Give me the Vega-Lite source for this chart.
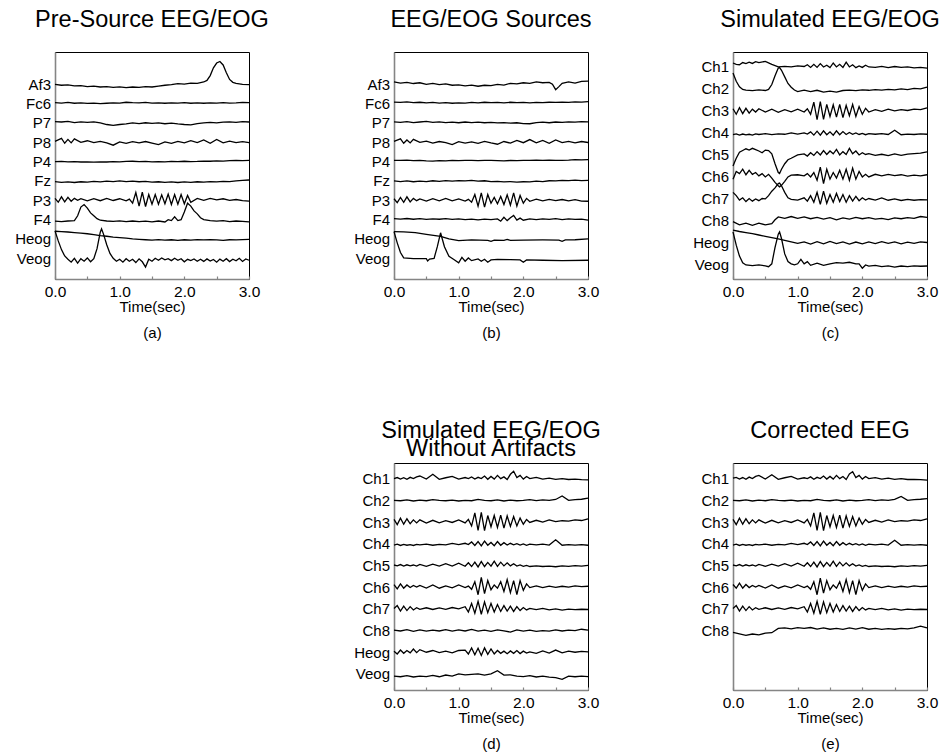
{
"$schema":"https://vega.github.io/schema/vega-lite/v6.json",
"padding":{"left":14,"top":7,"right":0,"bottom":0},
"background":"white",
"bounds":"flush",
"columns":3,
"spacing":{"row":184,"column":145},
"config":{
"font":"Liberation Sans",
"view":{"stroke":"black","strokeWidth":1},
"title":{"font":"Liberation Sans","fontSize":23.5,"fontWeight":"normal","color":"black","offset":21},
"axis":{"grid":false,"domainColor":"#858585","domainWidth":1.6,"labelFont":"Liberation Sans","labelColor":"black","titleFont":"Liberation Sans","titleFontWeight":"normal","titleColor":"black","zindex":1},
"axisX":{"values":[0,0.5,1,1.5,2,2.5,3],"labelExpr":"datum.value % 1 === 0 ? format(datum.value, '.1f') : ''","labelFlush":false,"labelOverlap":false,"tickSize":-3,"tickColor":"#858585","tickWidth":1.2,"labelFontSize":15.5,"labelPadding":8,"titleFontSize":15,"titlePadding":0,"titleLineHeight":25.5},
"axisY":{"ticks":false,"labelFontSize":15,"labelPadding":4.5,"title":null},
"line":{"color":"black","strokeWidth":1.3}
},
"datasets":{
"a":[
{"c":10,"t":0,"y":10.0},{"c":10,"t":0.1,"y":9.95},{"c":10,"t":0.2,"y":9.97},{"c":10,"t":0.3,"y":9.92},{"c":10,"t":0.4,"y":9.93},{"c":10,"t":0.5,"y":9.88},{"c":10,"t":0.6,"y":9.9},{"c":10,"t":0.7,"y":9.86},{"c":10,"t":0.8,"y":9.88},{"c":10,"t":0.9,"y":9.84},{"c":10,"t":1,"y":9.87},{"c":10,"t":1.1,"y":9.83},{"c":10,"t":1.2,"y":9.86},{"c":10,"t":1.3,"y":9.84},{"c":10,"t":1.4,"y":9.88},{"c":10,"t":1.5,"y":9.86},{"c":10,"t":1.6,"y":9.91},{"c":10,"t":1.7,"y":9.95},{"c":10,"t":1.8,"y":9.98},{"c":10,"t":1.9,"y":10.03},{"c":10,"t":2,"y":10.01},{"c":10,"t":2.1,"y":10.06},{"c":10,"t":2.2,"y":10.05},{"c":10,"t":2.3,"y":10.12},{"c":10,"t":2.35,"y":10.2},{"c":10,"t":2.4,"y":10.45},{"c":10,"t":2.45,"y":10.85},{"c":10,"t":2.5,"y":11.1},{"c":10,"t":2.55,"y":11.18},{"c":10,"t":2.6,"y":11.0},{"c":10,"t":2.65,"y":10.6},{"c":10,"t":2.7,"y":10.25},{"c":10,"t":2.75,"y":10.1},{"c":10,"t":2.8,"y":10.05},{"c":10,"t":2.9,"y":10.0},{"c":10,"t":3,"y":9.98},
{"c":9,"t":0,"y":9.05},{"c":9,"t":0.1,"y":9.03},{"c":9,"t":0.2,"y":9.06},{"c":9,"t":0.3,"y":9.02},{"c":9,"t":0.4,"y":9.04},{"c":9,"t":0.5,"y":9.01},{"c":9,"t":0.6,"y":9.03},{"c":9,"t":0.7,"y":9.0},{"c":9,"t":0.8,"y":9.02},{"c":9,"t":0.9,"y":9.04},{"c":9,"t":1,"y":9.03},{"c":9,"t":1.1,"y":9.07},{"c":9,"t":1.2,"y":9.05},{"c":9,"t":1.3,"y":9.04},{"c":9,"t":1.4,"y":9.06},{"c":9,"t":1.5,"y":9.03},{"c":9,"t":1.6,"y":9.04},{"c":9,"t":1.7,"y":9.02},{"c":9,"t":1.8,"y":9.04},{"c":9,"t":1.9,"y":9.03},{"c":9,"t":2,"y":9.05},{"c":9,"t":2.1,"y":9.02},{"c":9,"t":2.2,"y":9.04},{"c":9,"t":2.3,"y":9.02},{"c":9,"t":2.4,"y":9.04},{"c":9,"t":2.5,"y":9.03},{"c":9,"t":2.6,"y":9.05},{"c":9,"t":2.7,"y":9.03},{"c":9,"t":2.8,"y":9.04},{"c":9,"t":2.9,"y":9.06},{"c":9,"t":3,"y":9.05},
{"c":8,"t":0,"y":8.07},{"c":8,"t":0.1,"y":8.05},{"c":8,"t":0.2,"y":8.08},{"c":8,"t":0.3,"y":8.02},{"c":8,"t":0.4,"y":8.06},{"c":8,"t":0.5,"y":8.03},{"c":8,"t":0.6,"y":8.06},{"c":8,"t":0.7,"y":8.0},{"c":8,"t":0.8,"y":7.92},{"c":8,"t":0.9,"y":7.88},{"c":8,"t":1,"y":7.92},{"c":8,"t":1.1,"y":7.95},{"c":8,"t":1.2,"y":8.0},{"c":8,"t":1.3,"y":7.97},{"c":8,"t":1.4,"y":8.01},{"c":8,"t":1.5,"y":7.98},{"c":8,"t":1.6,"y":8.0},{"c":8,"t":1.7,"y":7.96},{"c":8,"t":1.8,"y":7.99},{"c":8,"t":1.9,"y":7.95},{"c":8,"t":2,"y":7.92},{"c":8,"t":2.1,"y":7.9},{"c":8,"t":2.2,"y":7.97},{"c":8,"t":2.3,"y":8.0},{"c":8,"t":2.4,"y":8.03},{"c":8,"t":2.5,"y":8.0},{"c":8,"t":2.6,"y":8.04},{"c":8,"t":2.7,"y":8.06},{"c":8,"t":2.8,"y":8.03},{"c":8,"t":2.9,"y":8.07},{"c":8,"t":3,"y":8.05},
{"c":7,"t":0,"y":7.05},{"c":7,"t":0.1,"y":7.2},{"c":7,"t":0.15,"y":6.95},{"c":7,"t":0.2,"y":7.15},{"c":7,"t":0.25,"y":6.97},{"c":7,"t":0.3,"y":7.18},{"c":7,"t":0.4,"y":7.0},{"c":7,"t":0.5,"y":7.08},{"c":7,"t":0.6,"y":6.98},{"c":7,"t":0.7,"y":7.05},{"c":7,"t":0.8,"y":6.97},{"c":7,"t":0.9,"y":6.85},{"c":7,"t":1,"y":7.02},{"c":7,"t":1.1,"y":6.95},{"c":7,"t":1.2,"y":7.03},{"c":7,"t":1.3,"y":6.97},{"c":7,"t":1.4,"y":7.04},{"c":7,"t":1.5,"y":6.96},{"c":7,"t":1.6,"y":6.88},{"c":7,"t":1.7,"y":7.02},{"c":7,"t":1.8,"y":6.95},{"c":7,"t":1.9,"y":7.05},{"c":7,"t":2,"y":6.97},{"c":7,"t":2.1,"y":7.08},{"c":7,"t":2.2,"y":6.98},{"c":7,"t":2.3,"y":7.12},{"c":7,"t":2.4,"y":6.95},{"c":7,"t":2.5,"y":7.15},{"c":7,"t":2.6,"y":6.97},{"c":7,"t":2.7,"y":7.06},{"c":7,"t":2.8,"y":6.98},{"c":7,"t":2.9,"y":7.03},{"c":7,"t":3,"y":6.98},
{"c":6,"t":0,"y":6.0},{"c":6,"t":0.1,"y":6.01},{"c":6,"t":0.2,"y":5.99},{"c":6,"t":0.3,"y":6.0},{"c":6,"t":0.4,"y":5.98},{"c":6,"t":0.5,"y":5.99},{"c":6,"t":0.6,"y":5.97},{"c":6,"t":0.7,"y":5.99},{"c":6,"t":0.8,"y":5.98},{"c":6,"t":0.9,"y":6.0},{"c":6,"t":1,"y":5.99},{"c":6,"t":1.1,"y":6.01},{"c":6,"t":1.2,"y":6.02},{"c":6,"t":1.3,"y":6.0},{"c":6,"t":1.4,"y":6.01},{"c":6,"t":1.5,"y":5.99},{"c":6,"t":1.6,"y":6.0},{"c":6,"t":1.7,"y":5.99},{"c":6,"t":1.8,"y":6.01},{"c":6,"t":1.9,"y":6.0},{"c":6,"t":2,"y":6.02},{"c":6,"t":2.1,"y":6.0},{"c":6,"t":2.2,"y":6.01},{"c":6,"t":2.3,"y":6.03},{"c":6,"t":2.4,"y":6.02},{"c":6,"t":2.5,"y":6.04},{"c":6,"t":2.6,"y":6.03},{"c":6,"t":2.7,"y":6.05},{"c":6,"t":2.8,"y":6.06},{"c":6,"t":2.9,"y":6.05},{"c":6,"t":3,"y":6.06},
{"c":5,"t":0,"y":4.97},{"c":5,"t":0.1,"y":4.93},{"c":5,"t":0.2,"y":4.95},{"c":5,"t":0.3,"y":4.92},{"c":5,"t":0.4,"y":4.96},{"c":5,"t":0.5,"y":4.94},{"c":5,"t":0.6,"y":4.98},{"c":5,"t":0.7,"y":4.95},{"c":5,"t":0.8,"y":4.99},{"c":5,"t":0.9,"y":4.97},{"c":5,"t":1,"y":5.0},{"c":5,"t":1.1,"y":4.97},{"c":5,"t":1.2,"y":4.99},{"c":5,"t":1.3,"y":4.96},{"c":5,"t":1.4,"y":4.98},{"c":5,"t":1.5,"y":4.94},{"c":5,"t":1.6,"y":4.96},{"c":5,"t":1.7,"y":4.93},{"c":5,"t":1.8,"y":4.95},{"c":5,"t":1.9,"y":4.92},{"c":5,"t":2,"y":4.95},{"c":5,"t":2.1,"y":4.93},{"c":5,"t":2.2,"y":4.96},{"c":5,"t":2.3,"y":4.94},{"c":5,"t":2.4,"y":4.97},{"c":5,"t":2.5,"y":4.95},{"c":5,"t":2.6,"y":4.98},{"c":5,"t":2.7,"y":4.97},{"c":5,"t":2.8,"y":5.01},{"c":5,"t":2.9,"y":5.03},{"c":5,"t":3,"y":5.05},
{"c":4,"t":0,"y":4.1},{"c":4,"t":0.05,"y":3.9},{"c":4,"t":0.1,"y":4.18},{"c":4,"t":0.15,"y":3.92},{"c":4,"t":0.2,"y":4.15},{"c":4,"t":0.25,"y":3.95},{"c":4,"t":0.3,"y":4.1},{"c":4,"t":0.35,"y":4.0},{"c":4,"t":0.4,"y":4.08},{"c":4,"t":0.5,"y":3.97},{"c":4,"t":0.6,"y":4.09},{"c":4,"t":0.7,"y":3.98},{"c":4,"t":0.8,"y":4.1},{"c":4,"t":0.9,"y":3.99},{"c":4,"t":1,"y":4.08},{"c":4,"t":1.1,"y":3.97},{"c":4,"t":1.15,"y":4.06},{"c":4,"t":1.2,"y":3.85},{"c":4,"t":1.25,"y":4.4},{"c":4,"t":1.3,"y":3.7},{"c":4,"t":1.35,"y":4.42},{"c":4,"t":1.4,"y":3.68},{"c":4,"t":1.45,"y":4.3},{"c":4,"t":1.5,"y":3.8},{"c":4,"t":1.55,"y":4.3},{"c":4,"t":1.6,"y":3.8},{"c":4,"t":1.65,"y":4.28},{"c":4,"t":1.7,"y":3.82},{"c":4,"t":1.75,"y":4.32},{"c":4,"t":1.8,"y":3.78},{"c":4,"t":1.85,"y":4.3},{"c":4,"t":1.9,"y":3.8},{"c":4,"t":1.95,"y":4.3},{"c":4,"t":2,"y":3.82},{"c":4,"t":2.05,"y":4.25},{"c":4,"t":2.1,"y":3.9},{"c":4,"t":2.2,"y":4.1},{"c":4,"t":2.3,"y":4.0},{"c":4,"t":2.4,"y":4.1},{"c":4,"t":2.5,"y":4.02},{"c":4,"t":2.6,"y":4.08},{"c":4,"t":2.7,"y":4.0},{"c":4,"t":2.8,"y":4.04},{"c":4,"t":2.9,"y":3.98},{"c":4,"t":3,"y":3.96},
{"c":3,"t":0,"y":2.92},{"c":3,"t":0.1,"y":2.9},{"c":3,"t":0.2,"y":2.93},{"c":3,"t":0.3,"y":2.95},{"c":3,"t":0.35,"y":3.2},{"c":3,"t":0.4,"y":3.65},{"c":3,"t":0.45,"y":3.78},{"c":3,"t":0.5,"y":3.6},{"c":3,"t":0.55,"y":3.35},{"c":3,"t":0.6,"y":3.2},{"c":3,"t":0.65,"y":3.05},{"c":3,"t":0.7,"y":2.97},{"c":3,"t":0.8,"y":2.93},{"c":3,"t":0.9,"y":2.91},{"c":3,"t":1,"y":2.94},{"c":3,"t":1.1,"y":2.9},{"c":3,"t":1.2,"y":2.93},{"c":3,"t":1.3,"y":2.9},{"c":3,"t":1.4,"y":2.92},{"c":3,"t":1.5,"y":2.88},{"c":3,"t":1.6,"y":2.93},{"c":3,"t":1.7,"y":2.88},{"c":3,"t":1.75,"y":3.0},{"c":3,"t":1.8,"y":2.95},{"c":3,"t":1.85,"y":3.15},{"c":3,"t":1.9,"y":2.95},{"c":3,"t":1.95,"y":3.0},{"c":3,"t":2,"y":3.4},{"c":3,"t":2.05,"y":3.85},{"c":3,"t":2.1,"y":3.7},{"c":3,"t":2.15,"y":3.45},{"c":3,"t":2.2,"y":3.3},{"c":3,"t":2.25,"y":3.1},{"c":3,"t":2.3,"y":3.0},{"c":3,"t":2.4,"y":2.95},{"c":3,"t":2.5,"y":2.92},{"c":3,"t":2.6,"y":2.95},{"c":3,"t":2.7,"y":2.9},{"c":3,"t":2.8,"y":2.93},{"c":3,"t":2.9,"y":2.91},{"c":3,"t":3,"y":2.88},
{"c":2,"t":0,"y":2.4},{"c":2,"t":0.1,"y":2.38},{"c":2,"t":0.2,"y":2.36},{"c":2,"t":0.3,"y":2.33},{"c":2,"t":0.4,"y":2.3},{"c":2,"t":0.5,"y":2.27},{"c":2,"t":0.6,"y":2.22},{"c":2,"t":0.7,"y":2.17},{"c":2,"t":0.8,"y":2.14},{"c":2,"t":0.9,"y":2.1},{"c":2,"t":1,"y":2.07},{"c":2,"t":1.1,"y":2.04},{"c":2,"t":1.2,"y":2.0},{"c":2,"t":1.3,"y":1.98},{"c":2,"t":1.4,"y":1.96},{"c":2,"t":1.5,"y":1.94},{"c":2,"t":1.6,"y":1.97},{"c":2,"t":1.7,"y":1.94},{"c":2,"t":1.8,"y":1.96},{"c":2,"t":1.9,"y":1.93},{"c":2,"t":2,"y":1.96},{"c":2,"t":2.1,"y":1.94},{"c":2,"t":2.2,"y":1.97},{"c":2,"t":2.3,"y":1.95},{"c":2,"t":2.4,"y":1.97},{"c":2,"t":2.5,"y":1.95},{"c":2,"t":2.6,"y":1.93},{"c":2,"t":2.7,"y":1.96},{"c":2,"t":2.8,"y":1.95},{"c":2,"t":2.9,"y":1.97},{"c":2,"t":3,"y":1.98},
{"c":1,"t":0,"y":2.42},{"c":1,"t":0.05,"y":1.9},{"c":1,"t":0.1,"y":1.45},{"c":1,"t":0.15,"y":1.12},{"c":1,"t":0.2,"y":0.95},{"c":1,"t":0.25,"y":0.8},{"c":1,"t":0.3,"y":1.0},{"c":1,"t":0.35,"y":0.75},{"c":1,"t":0.4,"y":0.98},{"c":1,"t":0.45,"y":0.85},{"c":1,"t":0.5,"y":1.02},{"c":1,"t":0.55,"y":0.82},{"c":1,"t":0.6,"y":0.98},{"c":1,"t":0.65,"y":1.5},{"c":1,"t":0.7,"y":2.35},{"c":1,"t":0.72,"y":2.52},{"c":1,"t":0.75,"y":2.25},{"c":1,"t":0.8,"y":1.7},{"c":1,"t":0.85,"y":1.25},{"c":1,"t":0.9,"y":1.0},{"c":1,"t":0.95,"y":0.85},{"c":1,"t":1,"y":0.95},{"c":1,"t":1.05,"y":0.8},{"c":1,"t":1.1,"y":0.98},{"c":1,"t":1.15,"y":0.85},{"c":1,"t":1.2,"y":0.95},{"c":1,"t":1.25,"y":0.78},{"c":1,"t":1.3,"y":0.97},{"c":1,"t":1.35,"y":0.82},{"c":1,"t":1.4,"y":0.55},{"c":1,"t":1.45,"y":0.95},{"c":1,"t":1.5,"y":0.85},{"c":1,"t":1.55,"y":1.0},{"c":1,"t":1.6,"y":0.9},{"c":1,"t":1.65,"y":1.02},{"c":1,"t":1.7,"y":0.92},{"c":1,"t":1.75,"y":0.98},{"c":1,"t":1.8,"y":0.88},{"c":1,"t":1.85,"y":1.0},{"c":1,"t":1.9,"y":0.9},{"c":1,"t":1.95,"y":0.98},{"c":1,"t":2,"y":0.82},{"c":1,"t":2.05,"y":0.95},{"c":1,"t":2.1,"y":0.88},{"c":1,"t":2.15,"y":0.97},{"c":1,"t":2.2,"y":0.85},{"c":1,"t":2.25,"y":0.95},{"c":1,"t":2.3,"y":0.84},{"c":1,"t":2.35,"y":0.97},{"c":1,"t":2.4,"y":0.86},{"c":1,"t":2.45,"y":0.94},{"c":1,"t":2.5,"y":0.8},{"c":1,"t":2.55,"y":0.96},{"c":1,"t":2.6,"y":0.85},{"c":1,"t":2.65,"y":0.98},{"c":1,"t":2.7,"y":0.83},{"c":1,"t":2.75,"y":0.95},{"c":1,"t":2.8,"y":0.87},{"c":1,"t":2.85,"y":1.0},{"c":1,"t":2.9,"y":0.84},{"c":1,"t":2.95,"y":0.97},{"c":1,"t":3,"y":0.9}
],
"b":[
{"c":10,"t":0,"y":10.12},{"c":10,"t":0.1,"y":10.06},{"c":10,"t":0.2,"y":10.1},{"c":10,"t":0.3,"y":10.04},{"c":10,"t":0.4,"y":10.08},{"c":10,"t":0.5,"y":10.0},{"c":10,"t":0.6,"y":10.05},{"c":10,"t":0.7,"y":9.98},{"c":10,"t":0.8,"y":10.02},{"c":10,"t":0.9,"y":9.95},{"c":10,"t":1,"y":9.97},{"c":10,"t":1.1,"y":9.92},{"c":10,"t":1.2,"y":9.96},{"c":10,"t":1.3,"y":9.9},{"c":10,"t":1.4,"y":9.95},{"c":10,"t":1.5,"y":9.93},{"c":10,"t":1.6,"y":10.0},{"c":10,"t":1.7,"y":9.96},{"c":10,"t":1.8,"y":10.05},{"c":10,"t":1.9,"y":10.02},{"c":10,"t":2,"y":10.08},{"c":10,"t":2.1,"y":10.05},{"c":10,"t":2.2,"y":10.12},{"c":10,"t":2.3,"y":10.08},{"c":10,"t":2.4,"y":10.1},{"c":10,"t":2.45,"y":10.0},{"c":10,"t":2.5,"y":9.72},{"c":10,"t":2.55,"y":9.88},{"c":10,"t":2.6,"y":10.05},{"c":10,"t":2.7,"y":10.12},{"c":10,"t":2.8,"y":10.06},{"c":10,"t":2.9,"y":10.15},{"c":10,"t":3,"y":10.16},
{"c":9,"t":0,"y":9.08},{"c":9,"t":0.1,"y":9.06},{"c":9,"t":0.2,"y":9.09},{"c":9,"t":0.3,"y":9.05},{"c":9,"t":0.4,"y":9.07},{"c":9,"t":0.5,"y":9.04},{"c":9,"t":0.6,"y":9.06},{"c":9,"t":0.7,"y":9.03},{"c":9,"t":0.8,"y":9.05},{"c":9,"t":0.9,"y":9.02},{"c":9,"t":1,"y":9.04},{"c":9,"t":1.1,"y":9.03},{"c":9,"t":1.2,"y":9.06},{"c":9,"t":1.3,"y":9.04},{"c":9,"t":1.4,"y":9.07},{"c":9,"t":1.5,"y":9.05},{"c":9,"t":1.6,"y":9.06},{"c":9,"t":1.7,"y":9.04},{"c":9,"t":1.8,"y":9.07},{"c":9,"t":1.9,"y":9.05},{"c":9,"t":2,"y":9.06},{"c":9,"t":2.1,"y":9.04},{"c":9,"t":2.2,"y":9.06},{"c":9,"t":2.3,"y":9.05},{"c":9,"t":2.4,"y":9.07},{"c":9,"t":2.5,"y":9.06},{"c":9,"t":2.6,"y":9.08},{"c":9,"t":2.7,"y":9.06},{"c":9,"t":2.8,"y":9.09},{"c":9,"t":2.9,"y":9.08},{"c":9,"t":3,"y":9.1},
{"c":8,"t":0,"y":8.06},{"c":8,"t":0.1,"y":8.03},{"c":8,"t":0.2,"y":8.07},{"c":8,"t":0.3,"y":8.02},{"c":8,"t":0.4,"y":8.05},{"c":8,"t":0.5,"y":8.08},{"c":8,"t":0.6,"y":8.03},{"c":8,"t":0.7,"y":8.06},{"c":8,"t":0.8,"y":8.02},{"c":8,"t":0.9,"y":8.04},{"c":8,"t":1,"y":8.01},{"c":8,"t":1.1,"y":8.05},{"c":8,"t":1.2,"y":8.02},{"c":8,"t":1.3,"y":8.04},{"c":8,"t":1.4,"y":8.01},{"c":8,"t":1.5,"y":8.03},{"c":8,"t":1.6,"y":8.0},{"c":8,"t":1.7,"y":8.02},{"c":8,"t":1.8,"y":7.99},{"c":8,"t":1.9,"y":8.01},{"c":8,"t":2,"y":7.97},{"c":8,"t":2.1,"y":7.96},{"c":8,"t":2.2,"y":8.02},{"c":8,"t":2.3,"y":8.04},{"c":8,"t":2.4,"y":8.01},{"c":8,"t":2.5,"y":8.05},{"c":8,"t":2.6,"y":8.03},{"c":8,"t":2.7,"y":8.06},{"c":8,"t":2.8,"y":8.04},{"c":8,"t":2.9,"y":8.07},{"c":8,"t":3,"y":8.06},
{"c":7,"t":0,"y":7.05},{"c":7,"t":0.1,"y":7.18},{"c":7,"t":0.15,"y":6.95},{"c":7,"t":0.2,"y":7.12},{"c":7,"t":0.25,"y":6.97},{"c":7,"t":0.3,"y":7.15},{"c":7,"t":0.4,"y":7.0},{"c":7,"t":0.5,"y":7.06},{"c":7,"t":0.6,"y":6.96},{"c":7,"t":0.7,"y":7.04},{"c":7,"t":0.8,"y":6.98},{"c":7,"t":0.9,"y":6.88},{"c":7,"t":1,"y":7.03},{"c":7,"t":1.1,"y":6.96},{"c":7,"t":1.2,"y":7.02},{"c":7,"t":1.3,"y":6.95},{"c":7,"t":1.4,"y":7.05},{"c":7,"t":1.5,"y":6.97},{"c":7,"t":1.6,"y":6.9},{"c":7,"t":1.7,"y":7.04},{"c":7,"t":1.8,"y":6.96},{"c":7,"t":1.9,"y":7.1},{"c":7,"t":2,"y":6.98},{"c":7,"t":2.1,"y":7.14},{"c":7,"t":2.2,"y":6.97},{"c":7,"t":2.3,"y":7.1},{"c":7,"t":2.4,"y":6.95},{"c":7,"t":2.5,"y":7.12},{"c":7,"t":2.6,"y":6.98},{"c":7,"t":2.7,"y":7.05},{"c":7,"t":2.8,"y":6.97},{"c":7,"t":2.9,"y":7.04},{"c":7,"t":3,"y":6.99},
{"c":6,"t":0,"y":6.07},{"c":6,"t":0.1,"y":6.06},{"c":6,"t":0.2,"y":6.08},{"c":6,"t":0.3,"y":6.05},{"c":6,"t":0.4,"y":6.06},{"c":6,"t":0.5,"y":6.04},{"c":6,"t":0.6,"y":6.03},{"c":6,"t":0.7,"y":6.05},{"c":6,"t":0.8,"y":6.04},{"c":6,"t":0.9,"y":6.06},{"c":6,"t":1,"y":6.05},{"c":6,"t":1.1,"y":6.07},{"c":6,"t":1.2,"y":6.06},{"c":6,"t":1.3,"y":6.05},{"c":6,"t":1.4,"y":6.07},{"c":6,"t":1.5,"y":6.06},{"c":6,"t":1.6,"y":6.05},{"c":6,"t":1.7,"y":6.04},{"c":6,"t":1.8,"y":6.06},{"c":6,"t":1.9,"y":6.05},{"c":6,"t":2,"y":6.07},{"c":6,"t":2.1,"y":6.06},{"c":6,"t":2.2,"y":6.08},{"c":6,"t":2.3,"y":6.07},{"c":6,"t":2.4,"y":6.08},{"c":6,"t":2.5,"y":6.06},{"c":6,"t":2.6,"y":6.07},{"c":6,"t":2.7,"y":6.08},{"c":6,"t":2.8,"y":6.1},{"c":6,"t":2.9,"y":6.09},{"c":6,"t":3,"y":6.1},
{"c":5,"t":0,"y":5.0},{"c":5,"t":0.1,"y":4.97},{"c":5,"t":0.2,"y":5.0},{"c":5,"t":0.3,"y":4.96},{"c":5,"t":0.4,"y":4.99},{"c":5,"t":0.5,"y":4.97},{"c":5,"t":0.6,"y":5.01},{"c":5,"t":0.7,"y":4.98},{"c":5,"t":0.8,"y":5.02},{"c":5,"t":0.9,"y":4.99},{"c":5,"t":1,"y":5.02},{"c":5,"t":1.1,"y":5.0},{"c":5,"t":1.2,"y":5.03},{"c":5,"t":1.3,"y":4.99},{"c":5,"t":1.4,"y":5.01},{"c":5,"t":1.5,"y":4.97},{"c":5,"t":1.6,"y":4.98},{"c":5,"t":1.7,"y":4.95},{"c":5,"t":1.8,"y":4.97},{"c":5,"t":1.9,"y":4.94},{"c":5,"t":2,"y":4.96},{"c":5,"t":2.1,"y":4.95},{"c":5,"t":2.2,"y":4.99},{"c":5,"t":2.3,"y":4.97},{"c":5,"t":2.4,"y":5.01},{"c":5,"t":2.5,"y":5.0},{"c":5,"t":2.6,"y":5.03},{"c":5,"t":2.7,"y":5.02},{"c":5,"t":2.8,"y":5.04},{"c":5,"t":2.9,"y":5.02},{"c":5,"t":3,"y":5.03},
{"c":4,"t":0,"y":4.08},{"c":4,"t":0.05,"y":3.88},{"c":4,"t":0.1,"y":4.15},{"c":4,"t":0.15,"y":3.9},{"c":4,"t":0.2,"y":4.18},{"c":4,"t":0.25,"y":3.92},{"c":4,"t":0.3,"y":4.1},{"c":4,"t":0.35,"y":3.98},{"c":4,"t":0.4,"y":4.07},{"c":4,"t":0.5,"y":3.96},{"c":4,"t":0.6,"y":4.08},{"c":4,"t":0.7,"y":3.97},{"c":4,"t":0.8,"y":4.1},{"c":4,"t":0.9,"y":3.97},{"c":4,"t":1,"y":4.07},{"c":4,"t":1.1,"y":3.96},{"c":4,"t":1.15,"y":4.05},{"c":4,"t":1.2,"y":3.9},{"c":4,"t":1.25,"y":4.3},{"c":4,"t":1.3,"y":3.7},{"c":4,"t":1.35,"y":4.38},{"c":4,"t":1.4,"y":3.65},{"c":4,"t":1.45,"y":4.3},{"c":4,"t":1.5,"y":3.85},{"c":4,"t":1.55,"y":4.15},{"c":4,"t":1.6,"y":3.82},{"c":4,"t":1.65,"y":4.2},{"c":4,"t":1.7,"y":3.78},{"c":4,"t":1.75,"y":4.28},{"c":4,"t":1.8,"y":3.75},{"c":4,"t":1.85,"y":4.38},{"c":4,"t":1.9,"y":3.7},{"c":4,"t":1.95,"y":4.25},{"c":4,"t":2,"y":3.85},{"c":4,"t":2.05,"y":4.1},{"c":4,"t":2.1,"y":3.95},{"c":4,"t":2.2,"y":4.06},{"c":4,"t":2.3,"y":3.97},{"c":4,"t":2.4,"y":4.05},{"c":4,"t":2.5,"y":3.98},{"c":4,"t":2.6,"y":4.04},{"c":4,"t":2.7,"y":3.97},{"c":4,"t":2.8,"y":4.03},{"c":4,"t":2.9,"y":3.96},{"c":4,"t":3,"y":3.95},
{"c":3,"t":0,"y":3.05},{"c":3,"t":0.1,"y":3.03},{"c":3,"t":0.2,"y":3.06},{"c":3,"t":0.3,"y":3.02},{"c":3,"t":0.4,"y":3.05},{"c":3,"t":0.5,"y":3.01},{"c":3,"t":0.6,"y":3.04},{"c":3,"t":0.7,"y":3.02},{"c":3,"t":0.8,"y":3.05},{"c":3,"t":0.9,"y":3.01},{"c":3,"t":1,"y":3.04},{"c":3,"t":1.1,"y":3.0},{"c":3,"t":1.2,"y":3.03},{"c":3,"t":1.3,"y":2.99},{"c":3,"t":1.4,"y":3.03},{"c":3,"t":1.5,"y":3.0},{"c":3,"t":1.6,"y":3.04},{"c":3,"t":1.65,"y":2.92},{"c":3,"t":1.7,"y":3.12},{"c":3,"t":1.75,"y":2.95},{"c":3,"t":1.8,"y":3.1},{"c":3,"t":1.85,"y":3.22},{"c":3,"t":1.9,"y":2.98},{"c":3,"t":1.95,"y":3.08},{"c":3,"t":2,"y":2.97},{"c":3,"t":2.1,"y":3.04},{"c":3,"t":2.2,"y":3.0},{"c":3,"t":2.3,"y":3.04},{"c":3,"t":2.4,"y":3.01},{"c":3,"t":2.5,"y":3.05},{"c":3,"t":2.6,"y":3.0},{"c":3,"t":2.7,"y":3.04},{"c":3,"t":2.8,"y":3.01},{"c":3,"t":2.9,"y":3.03},{"c":3,"t":3,"y":2.97},
{"c":2,"t":0,"y":2.38},{"c":2,"t":0.15,"y":2.37},{"c":2,"t":0.33,"y":2.33},{"c":2,"t":0.5,"y":2.24},{"c":2,"t":0.72,"y":2.13},{"c":2,"t":0.85,"y":2.0},{"c":2,"t":1,"y":1.91},{"c":2,"t":1.2,"y":1.95},{"c":2,"t":1.45,"y":1.93},{"c":2,"t":1.5,"y":1.88},{"c":2,"t":1.55,"y":1.94},{"c":2,"t":1.7,"y":1.93},{"c":2,"t":1.75,"y":1.98},{"c":2,"t":1.8,"y":1.93},{"c":2,"t":2,"y":1.94},{"c":2,"t":2.3,"y":1.95},{"c":2,"t":2.55,"y":1.94},{"c":2,"t":2.6,"y":1.88},{"c":2,"t":2.65,"y":1.95},{"c":2,"t":2.8,"y":1.96},{"c":2,"t":3,"y":2.0},
{"c":1,"t":0,"y":2.38},{"c":1,"t":0.05,"y":1.8},{"c":1,"t":0.1,"y":1.3},{"c":1,"t":0.15,"y":1.02},{"c":1,"t":0.3,"y":0.98},{"c":1,"t":0.5,"y":0.98},{"c":1,"t":0.52,"y":0.86},{"c":1,"t":0.55,"y":0.96},{"c":1,"t":0.62,"y":1.0},{"c":1,"t":0.67,"y":1.6},{"c":1,"t":0.72,"y":2.32},{"c":1,"t":0.78,"y":1.6},{"c":1,"t":0.85,"y":1.1},{"c":1,"t":0.92,"y":0.95},{"c":1,"t":1,"y":0.77},{"c":1,"t":1.05,"y":1.05},{"c":1,"t":1.1,"y":0.85},{"c":1,"t":1.15,"y":1.02},{"c":1,"t":1.2,"y":0.88},{"c":1,"t":1.3,"y":0.97},{"c":1,"t":1.35,"y":0.85},{"c":1,"t":1.4,"y":0.95},{"c":1,"t":1.45,"y":0.8},{"c":1,"t":1.5,"y":0.92},{"c":1,"t":1.6,"y":0.95},{"c":1,"t":1.8,"y":0.93},{"c":1,"t":1.95,"y":0.92},{"c":1,"t":2,"y":0.8},{"c":1,"t":2.05,"y":0.92},{"c":1,"t":2.3,"y":0.9},{"c":1,"t":2.6,"y":0.88},{"c":1,"t":3,"y":0.9}
],
"c":[
{"c":10,"t":0,"y":10.18},{"c":10,"t":0.05,"y":10.12},{"c":10,"t":0.1,"y":10.1},{"c":10,"t":0.15,"y":10.2},{"c":10,"t":0.2,"y":10.15},{"c":10,"t":0.25,"y":10.22},{"c":10,"t":0.3,"y":10.16},{"c":10,"t":0.35,"y":10.24},{"c":10,"t":0.4,"y":10.2},{"c":10,"t":0.5,"y":10.25},{"c":10,"t":0.6,"y":10.12},{"c":10,"t":0.7,"y":10.0},{"c":10,"t":0.8,"y":10.03},{"c":10,"t":0.9,"y":10.0},{"c":10,"t":1,"y":10.05},{"c":10,"t":1.1,"y":10.02},{"c":10,"t":1.15,"y":10.1},{"c":10,"t":1.2,"y":9.98},{"c":10,"t":1.25,"y":10.12},{"c":10,"t":1.3,"y":9.98},{"c":10,"t":1.35,"y":10.15},{"c":10,"t":1.4,"y":10.0},{"c":10,"t":1.45,"y":10.08},{"c":10,"t":1.5,"y":9.97},{"c":10,"t":1.55,"y":10.18},{"c":10,"t":1.6,"y":10.0},{"c":10,"t":1.65,"y":10.12},{"c":10,"t":1.7,"y":9.98},{"c":10,"t":1.75,"y":10.22},{"c":10,"t":1.8,"y":10.0},{"c":10,"t":1.85,"y":10.1},{"c":10,"t":1.9,"y":9.97},{"c":10,"t":1.95,"y":10.05},{"c":10,"t":2,"y":9.98},{"c":10,"t":2.05,"y":10.08},{"c":10,"t":2.1,"y":10.0},{"c":10,"t":2.2,"y":9.98},{"c":10,"t":2.3,"y":10.03},{"c":10,"t":2.4,"y":9.97},{"c":10,"t":2.5,"y":10.02},{"c":10,"t":2.6,"y":9.98},{"c":10,"t":2.7,"y":10.0},{"c":10,"t":2.8,"y":9.96},{"c":10,"t":2.9,"y":9.98},{"c":10,"t":3,"y":9.95},
{"c":9,"t":0,"y":9.73},{"c":9,"t":0.05,"y":9.35},{"c":9,"t":0.1,"y":9.1},{"c":9,"t":0.15,"y":8.98},{"c":9,"t":0.2,"y":8.95},{"c":9,"t":0.3,"y":8.92},{"c":9,"t":0.4,"y":8.96},{"c":9,"t":0.5,"y":8.93},{"c":9,"t":0.55,"y":8.98},{"c":9,"t":0.6,"y":9.2},{"c":9,"t":0.65,"y":9.6},{"c":9,"t":0.7,"y":9.95},{"c":9,"t":0.72,"y":9.97},{"c":9,"t":0.75,"y":9.85},{"c":9,"t":0.8,"y":9.55},{"c":9,"t":0.85,"y":9.25},{"c":9,"t":0.9,"y":9.08},{"c":9,"t":0.95,"y":8.95},{"c":9,"t":1,"y":8.88},{"c":9,"t":1.1,"y":8.95},{"c":9,"t":1.2,"y":8.88},{"c":9,"t":1.3,"y":8.94},{"c":9,"t":1.4,"y":8.86},{"c":9,"t":1.5,"y":8.9},{"c":9,"t":1.6,"y":8.86},{"c":9,"t":1.7,"y":8.93},{"c":9,"t":1.8,"y":8.95},{"c":9,"t":1.9,"y":8.92},{"c":9,"t":2,"y":8.96},{"c":9,"t":2.1,"y":8.94},{"c":9,"t":2.2,"y":8.97},{"c":9,"t":2.3,"y":8.95},{"c":9,"t":2.4,"y":8.98},{"c":9,"t":2.5,"y":8.96},{"c":9,"t":2.6,"y":9.0},{"c":9,"t":2.7,"y":8.97},{"c":9,"t":2.8,"y":9.03},{"c":9,"t":2.9,"y":9.0},{"c":9,"t":3,"y":9.08},
{"c":8,"t":0,"y":8.1},{"c":8,"t":0.05,"y":7.85},{"c":8,"t":0.1,"y":8.15},{"c":8,"t":0.15,"y":7.88},{"c":8,"t":0.2,"y":8.12},{"c":8,"t":0.25,"y":7.9},{"c":8,"t":0.3,"y":8.08},{"c":8,"t":0.35,"y":7.95},{"c":8,"t":0.4,"y":8.1},{"c":8,"t":0.5,"y":7.95},{"c":8,"t":0.6,"y":8.08},{"c":8,"t":0.7,"y":7.94},{"c":8,"t":0.8,"y":8.06},{"c":8,"t":0.9,"y":7.96},{"c":8,"t":1,"y":8.08},{"c":8,"t":1.1,"y":7.95},{"c":8,"t":1.15,"y":8.1},{"c":8,"t":1.2,"y":7.85},{"c":8,"t":1.25,"y":8.4},{"c":8,"t":1.3,"y":7.6},{"c":8,"t":1.35,"y":8.42},{"c":8,"t":1.4,"y":7.62},{"c":8,"t":1.45,"y":8.3},{"c":8,"t":1.5,"y":7.75},{"c":8,"t":1.55,"y":8.28},{"c":8,"t":1.6,"y":7.72},{"c":8,"t":1.65,"y":8.3},{"c":8,"t":1.7,"y":7.7},{"c":8,"t":1.75,"y":8.25},{"c":8,"t":1.8,"y":7.78},{"c":8,"t":1.85,"y":8.3},{"c":8,"t":1.9,"y":7.75},{"c":8,"t":1.95,"y":8.2},{"c":8,"t":2,"y":7.85},{"c":8,"t":2.05,"y":8.12},{"c":8,"t":2.1,"y":7.95},{"c":8,"t":2.2,"y":8.06},{"c":8,"t":2.3,"y":7.98},{"c":8,"t":2.4,"y":8.08},{"c":8,"t":2.5,"y":8.0},{"c":8,"t":2.6,"y":8.06},{"c":8,"t":2.7,"y":8.02},{"c":8,"t":2.8,"y":8.08},{"c":8,"t":2.9,"y":8.06},{"c":8,"t":3,"y":8.14},
{"c":7,"t":0,"y":6.92},{"c":7,"t":0.05,"y":6.96},{"c":7,"t":0.1,"y":6.9},{"c":7,"t":0.15,"y":6.95},{"c":7,"t":0.2,"y":6.91},{"c":7,"t":0.25,"y":6.94},{"c":7,"t":0.3,"y":6.9},{"c":7,"t":0.35,"y":6.96},{"c":7,"t":0.4,"y":6.93},{"c":7,"t":0.5,"y":6.97},{"c":7,"t":0.6,"y":6.92},{"c":7,"t":0.7,"y":6.96},{"c":7,"t":0.8,"y":6.94},{"c":7,"t":0.9,"y":7.0},{"c":7,"t":1,"y":6.95},{"c":7,"t":1.1,"y":7.0},{"c":7,"t":1.15,"y":6.95},{"c":7,"t":1.2,"y":7.05},{"c":7,"t":1.25,"y":6.9},{"c":7,"t":1.3,"y":7.08},{"c":7,"t":1.35,"y":6.9},{"c":7,"t":1.4,"y":7.1},{"c":7,"t":1.45,"y":6.92},{"c":7,"t":1.5,"y":7.05},{"c":7,"t":1.55,"y":6.9},{"c":7,"t":1.6,"y":7.1},{"c":7,"t":1.65,"y":6.92},{"c":7,"t":1.7,"y":7.06},{"c":7,"t":1.75,"y":6.93},{"c":7,"t":1.8,"y":7.02},{"c":7,"t":1.85,"y":6.94},{"c":7,"t":1.9,"y":7.0},{"c":7,"t":1.95,"y":6.93},{"c":7,"t":2,"y":6.98},{"c":7,"t":2.05,"y":6.92},{"c":7,"t":2.1,"y":6.97},{"c":7,"t":2.2,"y":6.94},{"c":7,"t":2.3,"y":6.97},{"c":7,"t":2.4,"y":6.93},{"c":7,"t":2.5,"y":7.12},{"c":7,"t":2.6,"y":6.92},{"c":7,"t":2.7,"y":6.95},{"c":7,"t":2.8,"y":6.93},{"c":7,"t":2.9,"y":6.96},{"c":7,"t":3,"y":6.94},
{"c":6,"t":0,"y":5.5},{"c":6,"t":0.05,"y":5.85},{"c":6,"t":0.1,"y":6.12},{"c":6,"t":0.15,"y":6.2},{"c":6,"t":0.2,"y":6.28},{"c":6,"t":0.25,"y":6.22},{"c":6,"t":0.3,"y":6.3},{"c":6,"t":0.35,"y":6.24},{"c":6,"t":0.4,"y":6.18},{"c":6,"t":0.45,"y":6.1},{"c":6,"t":0.5,"y":6.22},{"c":6,"t":0.55,"y":6.2},{"c":6,"t":0.6,"y":6.05},{"c":6,"t":0.65,"y":5.6},{"c":6,"t":0.7,"y":5.2},{"c":6,"t":0.72,"y":5.16},{"c":6,"t":0.75,"y":5.35},{"c":6,"t":0.8,"y":5.6},{"c":6,"t":0.85,"y":5.78},{"c":6,"t":0.9,"y":5.85},{"c":6,"t":1,"y":6.0},{"c":6,"t":1.1,"y":6.05},{"c":6,"t":1.15,"y":5.95},{"c":6,"t":1.2,"y":6.1},{"c":6,"t":1.25,"y":5.98},{"c":6,"t":1.3,"y":6.15},{"c":6,"t":1.35,"y":6.0},{"c":6,"t":1.4,"y":6.2},{"c":6,"t":1.45,"y":6.02},{"c":6,"t":1.5,"y":6.18},{"c":6,"t":1.55,"y":6.05},{"c":6,"t":1.6,"y":6.25},{"c":6,"t":1.65,"y":6.0},{"c":6,"t":1.7,"y":6.15},{"c":6,"t":1.75,"y":6.02},{"c":6,"t":1.8,"y":6.3},{"c":6,"t":1.85,"y":6.05},{"c":6,"t":1.9,"y":6.18},{"c":6,"t":1.95,"y":6.0},{"c":6,"t":2,"y":6.1},{"c":6,"t":2.05,"y":6.02},{"c":6,"t":2.1,"y":6.06},{"c":6,"t":2.2,"y":5.98},{"c":6,"t":2.3,"y":6.03},{"c":6,"t":2.4,"y":5.97},{"c":6,"t":2.5,"y":6.05},{"c":6,"t":2.6,"y":5.98},{"c":6,"t":2.7,"y":6.04},{"c":6,"t":2.8,"y":6.06},{"c":6,"t":2.9,"y":6.08},{"c":6,"t":3,"y":6.14},
{"c":5,"t":0,"y":4.9},{"c":5,"t":0.05,"y":5.25},{"c":5,"t":0.1,"y":5.15},{"c":5,"t":0.15,"y":5.35},{"c":5,"t":0.2,"y":5.1},{"c":5,"t":0.25,"y":5.3},{"c":5,"t":0.3,"y":5.12},{"c":5,"t":0.35,"y":5.2},{"c":5,"t":0.4,"y":5.05},{"c":5,"t":0.45,"y":5.15},{"c":5,"t":0.5,"y":5.0},{"c":5,"t":0.55,"y":5.12},{"c":5,"t":0.6,"y":4.95},{"c":5,"t":0.65,"y":4.75},{"c":5,"t":0.7,"y":4.6},{"c":5,"t":0.72,"y":4.55},{"c":5,"t":0.75,"y":4.62},{"c":5,"t":0.8,"y":4.8},{"c":5,"t":0.85,"y":5.0},{"c":5,"t":0.9,"y":5.08},{"c":5,"t":1,"y":5.1},{"c":5,"t":1.1,"y":5.05},{"c":5,"t":1.15,"y":5.15},{"c":5,"t":1.2,"y":5.0},{"c":5,"t":1.25,"y":5.2},{"c":5,"t":1.3,"y":4.85},{"c":5,"t":1.35,"y":5.45},{"c":5,"t":1.4,"y":4.7},{"c":5,"t":1.45,"y":5.35},{"c":5,"t":1.5,"y":4.9},{"c":5,"t":1.55,"y":5.2},{"c":5,"t":1.6,"y":4.95},{"c":5,"t":1.65,"y":5.3},{"c":5,"t":1.7,"y":4.9},{"c":5,"t":1.75,"y":5.35},{"c":5,"t":1.8,"y":4.85},{"c":5,"t":1.85,"y":5.4},{"c":5,"t":1.9,"y":4.9},{"c":5,"t":1.95,"y":5.25},{"c":5,"t":2,"y":5.0},{"c":5,"t":2.05,"y":5.12},{"c":5,"t":2.1,"y":5.0},{"c":5,"t":2.2,"y":5.12},{"c":5,"t":2.3,"y":5.05},{"c":5,"t":2.4,"y":5.12},{"c":5,"t":2.5,"y":5.06},{"c":5,"t":2.6,"y":5.1},{"c":5,"t":2.7,"y":5.04},{"c":5,"t":2.8,"y":5.08},{"c":5,"t":2.9,"y":5.05},{"c":5,"t":3,"y":5.1},
{"c":4,"t":0,"y":4.3},{"c":4,"t":0.05,"y":4.15},{"c":4,"t":0.1,"y":3.95},{"c":4,"t":0.15,"y":4.05},{"c":4,"t":0.2,"y":3.88},{"c":4,"t":0.25,"y":4.02},{"c":4,"t":0.3,"y":3.9},{"c":4,"t":0.35,"y":4.0},{"c":4,"t":0.4,"y":3.92},{"c":4,"t":0.45,"y":4.02},{"c":4,"t":0.5,"y":4.0},{"c":4,"t":0.55,"y":4.15},{"c":4,"t":0.6,"y":4.35},{"c":4,"t":0.65,"y":4.5},{"c":4,"t":0.7,"y":4.7},{"c":4,"t":0.72,"y":4.72},{"c":4,"t":0.75,"y":4.6},{"c":4,"t":0.8,"y":4.3},{"c":4,"t":0.85,"y":4.05},{"c":4,"t":0.9,"y":3.98},{"c":4,"t":1,"y":3.95},{"c":4,"t":1.1,"y":4.05},{"c":4,"t":1.15,"y":3.9},{"c":4,"t":1.2,"y":4.15},{"c":4,"t":1.25,"y":3.85},{"c":4,"t":1.3,"y":4.3},{"c":4,"t":1.35,"y":3.75},{"c":4,"t":1.4,"y":4.35},{"c":4,"t":1.45,"y":3.8},{"c":4,"t":1.5,"y":4.2},{"c":4,"t":1.55,"y":3.85},{"c":4,"t":1.6,"y":4.25},{"c":4,"t":1.65,"y":3.88},{"c":4,"t":1.7,"y":4.2},{"c":4,"t":1.75,"y":3.85},{"c":4,"t":1.8,"y":4.15},{"c":4,"t":1.85,"y":3.9},{"c":4,"t":1.9,"y":4.12},{"c":4,"t":1.95,"y":3.92},{"c":4,"t":2,"y":4.05},{"c":4,"t":2.05,"y":3.95},{"c":4,"t":2.1,"y":4.02},{"c":4,"t":2.2,"y":3.95},{"c":4,"t":2.3,"y":4.05},{"c":4,"t":2.4,"y":3.94},{"c":4,"t":2.5,"y":4.0},{"c":4,"t":2.6,"y":3.93},{"c":4,"t":2.7,"y":3.98},{"c":4,"t":2.8,"y":3.94},{"c":4,"t":2.9,"y":3.97},{"c":4,"t":3,"y":3.96},
{"c":3,"t":0,"y":2.97},{"c":3,"t":0.1,"y":2.82},{"c":3,"t":0.2,"y":2.9},{"c":3,"t":0.3,"y":2.8},{"c":3,"t":0.4,"y":2.9},{"c":3,"t":0.5,"y":2.82},{"c":3,"t":0.6,"y":2.88},{"c":3,"t":0.65,"y":3.05},{"c":3,"t":0.7,"y":3.18},{"c":3,"t":0.8,"y":3.12},{"c":3,"t":0.9,"y":3.2},{"c":3,"t":1,"y":3.12},{"c":3,"t":1.1,"y":3.18},{"c":3,"t":1.2,"y":3.1},{"c":3,"t":1.3,"y":3.16},{"c":3,"t":1.4,"y":3.08},{"c":3,"t":1.5,"y":3.15},{"c":3,"t":1.6,"y":3.05},{"c":3,"t":1.7,"y":3.14},{"c":3,"t":1.8,"y":3.08},{"c":3,"t":1.9,"y":3.16},{"c":3,"t":2,"y":3.1},{"c":3,"t":2.1,"y":3.15},{"c":3,"t":2.2,"y":3.08},{"c":3,"t":2.3,"y":3.12},{"c":3,"t":2.4,"y":3.06},{"c":3,"t":2.5,"y":3.14},{"c":3,"t":2.6,"y":3.1},{"c":3,"t":2.7,"y":3.15},{"c":3,"t":2.8,"y":3.12},{"c":3,"t":2.9,"y":3.2},{"c":3,"t":3,"y":3.16},
{"c":2,"t":0,"y":2.58},{"c":2,"t":0.1,"y":2.52},{"c":2,"t":0.2,"y":2.47},{"c":2,"t":0.3,"y":2.42},{"c":2,"t":0.4,"y":2.36},{"c":2,"t":0.5,"y":2.3},{"c":2,"t":0.6,"y":2.24},{"c":2,"t":0.7,"y":2.18},{"c":2,"t":0.8,"y":2.12},{"c":2,"t":0.9,"y":2.05},{"c":2,"t":1,"y":1.98},{"c":2,"t":1.1,"y":2.05},{"c":2,"t":1.2,"y":1.95},{"c":2,"t":1.3,"y":2.06},{"c":2,"t":1.4,"y":1.96},{"c":2,"t":1.5,"y":2.07},{"c":2,"t":1.6,"y":1.97},{"c":2,"t":1.7,"y":2.05},{"c":2,"t":1.8,"y":1.95},{"c":2,"t":1.9,"y":2.04},{"c":2,"t":2,"y":1.96},{"c":2,"t":2.1,"y":2.05},{"c":2,"t":2.2,"y":1.97},{"c":2,"t":2.3,"y":2.06},{"c":2,"t":2.4,"y":1.98},{"c":2,"t":2.5,"y":2.05},{"c":2,"t":2.6,"y":1.96},{"c":2,"t":2.7,"y":2.04},{"c":2,"t":2.8,"y":1.98},{"c":2,"t":2.9,"y":2.05},{"c":2,"t":3,"y":2.02},
{"c":1,"t":0,"y":2.5},{"c":1,"t":0.05,"y":1.9},{"c":1,"t":0.1,"y":1.4},{"c":1,"t":0.15,"y":1.1},{"c":1,"t":0.2,"y":1.0},{"c":1,"t":0.3,"y":0.97},{"c":1,"t":0.4,"y":1.0},{"c":1,"t":0.5,"y":0.96},{"c":1,"t":0.55,"y":0.92},{"c":1,"t":0.6,"y":1.05},{"c":1,"t":0.65,"y":1.8},{"c":1,"t":0.7,"y":2.4},{"c":1,"t":0.72,"y":2.5},{"c":1,"t":0.75,"y":2.2},{"c":1,"t":0.8,"y":1.5},{"c":1,"t":0.85,"y":1.15},{"c":1,"t":0.9,"y":1.05},{"c":1,"t":0.95,"y":1.0},{"c":1,"t":1,"y":1.05},{"c":1,"t":1.05,"y":1.25},{"c":1,"t":1.1,"y":1.05},{"c":1,"t":1.15,"y":1.15},{"c":1,"t":1.2,"y":0.98},{"c":1,"t":1.3,"y":1.08},{"c":1,"t":1.4,"y":0.98},{"c":1,"t":1.5,"y":1.05},{"c":1,"t":1.6,"y":1.1},{"c":1,"t":1.7,"y":1.08},{"c":1,"t":1.8,"y":1.12},{"c":1,"t":1.9,"y":1.05},{"c":1,"t":1.95,"y":1.05},{"c":1,"t":2,"y":0.85},{"c":1,"t":2.05,"y":1.0},{"c":1,"t":2.1,"y":0.95},{"c":1,"t":2.2,"y":0.98},{"c":1,"t":2.3,"y":0.92},{"c":1,"t":2.4,"y":0.96},{"c":1,"t":2.5,"y":0.9},{"c":1,"t":2.6,"y":0.95},{"c":1,"t":2.7,"y":0.92},{"c":1,"t":2.8,"y":0.96},{"c":1,"t":2.9,"y":0.94},{"c":1,"t":3,"y":0.95}
],
"d":[
{"c":10,"t":0,"y":10.0},{"c":10,"t":0.05,"y":10.05},{"c":10,"t":0.1,"y":9.98},{"c":10,"t":0.15,"y":10.04},{"c":10,"t":0.2,"y":9.97},{"c":10,"t":0.25,"y":10.06},{"c":10,"t":0.3,"y":10.0},{"c":10,"t":0.35,"y":10.08},{"c":10,"t":0.4,"y":10.12},{"c":10,"t":0.5,"y":9.98},{"c":10,"t":0.6,"y":10.2},{"c":10,"t":0.7,"y":9.97},{"c":10,"t":0.8,"y":10.04},{"c":10,"t":0.9,"y":10.1},{"c":10,"t":1,"y":9.98},{"c":10,"t":1.1,"y":10.05},{"c":10,"t":1.15,"y":10.0},{"c":10,"t":1.2,"y":10.08},{"c":10,"t":1.25,"y":9.98},{"c":10,"t":1.3,"y":10.06},{"c":10,"t":1.35,"y":10.0},{"c":10,"t":1.4,"y":10.12},{"c":10,"t":1.45,"y":9.97},{"c":10,"t":1.5,"y":10.1},{"c":10,"t":1.55,"y":9.98},{"c":10,"t":1.6,"y":10.15},{"c":10,"t":1.65,"y":10.0},{"c":10,"t":1.7,"y":10.08},{"c":10,"t":1.75,"y":9.96},{"c":10,"t":1.8,"y":10.2},{"c":10,"t":1.85,"y":10.34},{"c":10,"t":1.9,"y":10.05},{"c":10,"t":1.95,"y":10.15},{"c":10,"t":2,"y":9.98},{"c":10,"t":2.05,"y":10.1},{"c":10,"t":2.1,"y":10.0},{"c":10,"t":2.2,"y":10.06},{"c":10,"t":2.3,"y":9.98},{"c":10,"t":2.4,"y":10.02},{"c":10,"t":2.5,"y":9.97},{"c":10,"t":2.6,"y":10.0},{"c":10,"t":2.7,"y":9.96},{"c":10,"t":2.8,"y":9.98},{"c":10,"t":2.9,"y":9.95},{"c":10,"t":3,"y":9.94},
{"c":9,"t":0,"y":9.0},{"c":9,"t":0.1,"y":8.98},{"c":9,"t":0.2,"y":9.02},{"c":9,"t":0.3,"y":8.97},{"c":9,"t":0.4,"y":9.01},{"c":9,"t":0.5,"y":8.98},{"c":9,"t":0.6,"y":9.03},{"c":9,"t":0.7,"y":9.0},{"c":9,"t":0.8,"y":8.98},{"c":9,"t":0.9,"y":9.01},{"c":9,"t":1,"y":8.97},{"c":9,"t":1.1,"y":9.0},{"c":9,"t":1.2,"y":8.98},{"c":9,"t":1.3,"y":9.04},{"c":9,"t":1.4,"y":9.0},{"c":9,"t":1.5,"y":8.98},{"c":9,"t":1.6,"y":9.02},{"c":9,"t":1.7,"y":8.97},{"c":9,"t":1.8,"y":9.01},{"c":9,"t":1.9,"y":8.98},{"c":9,"t":2,"y":9.0},{"c":9,"t":2.1,"y":9.03},{"c":9,"t":2.2,"y":8.99},{"c":9,"t":2.3,"y":9.02},{"c":9,"t":2.4,"y":9.0},{"c":9,"t":2.5,"y":9.04},{"c":9,"t":2.6,"y":9.2},{"c":9,"t":2.7,"y":9.0},{"c":9,"t":2.8,"y":9.03},{"c":9,"t":2.9,"y":9.05},{"c":9,"t":3,"y":9.1},
{"c":8,"t":0,"y":8.12},{"c":8,"t":0.05,"y":7.88},{"c":8,"t":0.1,"y":8.18},{"c":8,"t":0.15,"y":7.9},{"c":8,"t":0.2,"y":8.15},{"c":8,"t":0.25,"y":7.92},{"c":8,"t":0.3,"y":8.1},{"c":8,"t":0.35,"y":7.96},{"c":8,"t":0.4,"y":8.1},{"c":8,"t":0.5,"y":7.95},{"c":8,"t":0.6,"y":8.08},{"c":8,"t":0.7,"y":7.96},{"c":8,"t":0.8,"y":8.06},{"c":8,"t":0.9,"y":7.98},{"c":8,"t":1,"y":8.1},{"c":8,"t":1.1,"y":7.96},{"c":8,"t":1.15,"y":8.12},{"c":8,"t":1.2,"y":7.82},{"c":8,"t":1.25,"y":8.42},{"c":8,"t":1.3,"y":7.62},{"c":8,"t":1.35,"y":8.45},{"c":8,"t":1.4,"y":7.6},{"c":8,"t":1.45,"y":8.3},{"c":8,"t":1.5,"y":7.78},{"c":8,"t":1.55,"y":8.3},{"c":8,"t":1.6,"y":7.75},{"c":8,"t":1.65,"y":8.32},{"c":8,"t":1.7,"y":7.72},{"c":8,"t":1.75,"y":8.28},{"c":8,"t":1.8,"y":7.8},{"c":8,"t":1.85,"y":8.25},{"c":8,"t":1.9,"y":7.82},{"c":8,"t":1.95,"y":8.18},{"c":8,"t":2,"y":7.9},{"c":8,"t":2.05,"y":8.12},{"c":8,"t":2.1,"y":7.98},{"c":8,"t":2.2,"y":8.08},{"c":8,"t":2.3,"y":8.0},{"c":8,"t":2.4,"y":8.1},{"c":8,"t":2.5,"y":8.02},{"c":8,"t":2.6,"y":8.06},{"c":8,"t":2.7,"y":8.04},{"c":8,"t":2.8,"y":8.1},{"c":8,"t":2.9,"y":8.07},{"c":8,"t":3,"y":8.15},
{"c":7,"t":0,"y":6.94},{"c":7,"t":0.05,"y":6.98},{"c":7,"t":0.1,"y":6.92},{"c":7,"t":0.15,"y":6.97},{"c":7,"t":0.2,"y":6.93},{"c":7,"t":0.25,"y":6.96},{"c":7,"t":0.3,"y":6.92},{"c":7,"t":0.35,"y":6.97},{"c":7,"t":0.4,"y":6.95},{"c":7,"t":0.5,"y":6.98},{"c":7,"t":0.6,"y":6.93},{"c":7,"t":0.7,"y":6.97},{"c":7,"t":0.8,"y":6.95},{"c":7,"t":0.9,"y":7.02},{"c":7,"t":1,"y":6.96},{"c":7,"t":1.1,"y":7.02},{"c":7,"t":1.15,"y":6.96},{"c":7,"t":1.2,"y":7.08},{"c":7,"t":1.25,"y":6.92},{"c":7,"t":1.3,"y":7.1},{"c":7,"t":1.35,"y":6.9},{"c":7,"t":1.4,"y":7.12},{"c":7,"t":1.45,"y":6.93},{"c":7,"t":1.5,"y":7.06},{"c":7,"t":1.55,"y":6.91},{"c":7,"t":1.6,"y":7.1},{"c":7,"t":1.65,"y":6.93},{"c":7,"t":1.7,"y":7.05},{"c":7,"t":1.75,"y":6.94},{"c":7,"t":1.8,"y":7.02},{"c":7,"t":1.85,"y":6.95},{"c":7,"t":1.9,"y":7.0},{"c":7,"t":1.95,"y":6.94},{"c":7,"t":2,"y":6.99},{"c":7,"t":2.05,"y":6.93},{"c":7,"t":2.1,"y":6.98},{"c":7,"t":2.2,"y":6.95},{"c":7,"t":2.3,"y":6.98},{"c":7,"t":2.4,"y":6.94},{"c":7,"t":2.5,"y":7.18},{"c":7,"t":2.6,"y":6.93},{"c":7,"t":2.7,"y":6.96},{"c":7,"t":2.8,"y":6.94},{"c":7,"t":2.9,"y":6.96},{"c":7,"t":3,"y":6.93},
{"c":6,"t":0,"y":6.02},{"c":6,"t":0.05,"y":5.98},{"c":6,"t":0.1,"y":6.04},{"c":6,"t":0.15,"y":5.97},{"c":6,"t":0.2,"y":6.03},{"c":6,"t":0.25,"y":5.98},{"c":6,"t":0.3,"y":6.02},{"c":6,"t":0.35,"y":5.97},{"c":6,"t":0.4,"y":6.05},{"c":6,"t":0.5,"y":5.96},{"c":6,"t":0.6,"y":6.06},{"c":6,"t":0.7,"y":5.97},{"c":6,"t":0.8,"y":6.08},{"c":6,"t":0.9,"y":5.97},{"c":6,"t":1,"y":6.1},{"c":6,"t":1.1,"y":5.96},{"c":6,"t":1.15,"y":6.12},{"c":6,"t":1.2,"y":5.95},{"c":6,"t":1.25,"y":6.15},{"c":6,"t":1.3,"y":5.93},{"c":6,"t":1.35,"y":6.18},{"c":6,"t":1.4,"y":5.95},{"c":6,"t":1.45,"y":6.14},{"c":6,"t":1.5,"y":5.97},{"c":6,"t":1.55,"y":6.2},{"c":6,"t":1.6,"y":5.96},{"c":6,"t":1.65,"y":6.15},{"c":6,"t":1.7,"y":5.98},{"c":6,"t":1.75,"y":6.12},{"c":6,"t":1.8,"y":5.98},{"c":6,"t":1.85,"y":6.08},{"c":6,"t":1.9,"y":5.97},{"c":6,"t":1.95,"y":6.02},{"c":6,"t":2,"y":5.96},{"c":6,"t":2.05,"y":6.0},{"c":6,"t":2.1,"y":5.95},{"c":6,"t":2.2,"y":5.98},{"c":6,"t":2.3,"y":5.95},{"c":6,"t":2.4,"y":5.97},{"c":6,"t":2.5,"y":5.94},{"c":6,"t":2.6,"y":5.98},{"c":6,"t":2.7,"y":5.96},{"c":6,"t":2.8,"y":5.99},{"c":6,"t":2.9,"y":5.97},{"c":6,"t":3,"y":6.0},
{"c":5,"t":0,"y":5.12},{"c":5,"t":0.05,"y":4.92},{"c":5,"t":0.1,"y":5.15},{"c":5,"t":0.15,"y":4.95},{"c":5,"t":0.2,"y":5.1},{"c":5,"t":0.25,"y":4.98},{"c":5,"t":0.3,"y":5.08},{"c":5,"t":0.35,"y":5.0},{"c":5,"t":0.4,"y":5.08},{"c":5,"t":0.5,"y":4.96},{"c":5,"t":0.6,"y":5.1},{"c":5,"t":0.7,"y":4.95},{"c":5,"t":0.8,"y":5.06},{"c":5,"t":0.9,"y":4.97},{"c":5,"t":1,"y":5.1},{"c":5,"t":1.1,"y":4.98},{"c":5,"t":1.15,"y":5.05},{"c":5,"t":1.2,"y":4.9},{"c":5,"t":1.25,"y":5.25},{"c":5,"t":1.3,"y":4.65},{"c":5,"t":1.35,"y":5.45},{"c":5,"t":1.4,"y":4.7},{"c":5,"t":1.45,"y":5.3},{"c":5,"t":1.5,"y":4.88},{"c":5,"t":1.55,"y":5.1},{"c":5,"t":1.6,"y":4.95},{"c":5,"t":1.65,"y":5.25},{"c":5,"t":1.7,"y":4.8},{"c":5,"t":1.75,"y":5.35},{"c":5,"t":1.8,"y":4.75},{"c":5,"t":1.85,"y":5.3},{"c":5,"t":1.9,"y":4.65},{"c":5,"t":1.95,"y":5.3},{"c":5,"t":2,"y":4.85},{"c":5,"t":2.05,"y":5.15},{"c":5,"t":2.1,"y":4.98},{"c":5,"t":2.2,"y":5.06},{"c":5,"t":2.3,"y":4.98},{"c":5,"t":2.4,"y":5.05},{"c":5,"t":2.5,"y":4.99},{"c":5,"t":2.6,"y":5.04},{"c":5,"t":2.7,"y":5.0},{"c":5,"t":2.8,"y":5.06},{"c":5,"t":2.9,"y":5.02},{"c":5,"t":3,"y":5.04},
{"c":4,"t":0,"y":4.02},{"c":4,"t":0.05,"y":4.15},{"c":4,"t":0.1,"y":3.9},{"c":4,"t":0.15,"y":4.12},{"c":4,"t":0.2,"y":3.92},{"c":4,"t":0.25,"y":4.1},{"c":4,"t":0.3,"y":3.95},{"c":4,"t":0.35,"y":4.05},{"c":4,"t":0.4,"y":3.98},{"c":4,"t":0.5,"y":4.05},{"c":4,"t":0.6,"y":3.97},{"c":4,"t":0.7,"y":4.04},{"c":4,"t":0.8,"y":3.98},{"c":4,"t":0.9,"y":4.06},{"c":4,"t":1,"y":4.0},{"c":4,"t":1.1,"y":4.1},{"c":4,"t":1.15,"y":3.85},{"c":4,"t":1.2,"y":4.25},{"c":4,"t":1.25,"y":3.8},{"c":4,"t":1.3,"y":4.35},{"c":4,"t":1.35,"y":3.75},{"c":4,"t":1.4,"y":4.32},{"c":4,"t":1.45,"y":3.82},{"c":4,"t":1.5,"y":4.25},{"c":4,"t":1.55,"y":3.85},{"c":4,"t":1.6,"y":4.2},{"c":4,"t":1.65,"y":3.88},{"c":4,"t":1.7,"y":4.15},{"c":4,"t":1.75,"y":3.9},{"c":4,"t":1.8,"y":4.12},{"c":4,"t":1.85,"y":3.88},{"c":4,"t":1.9,"y":4.1},{"c":4,"t":1.95,"y":3.92},{"c":4,"t":2,"y":4.06},{"c":4,"t":2.05,"y":3.95},{"c":4,"t":2.1,"y":4.02},{"c":4,"t":2.2,"y":3.96},{"c":4,"t":2.3,"y":4.02},{"c":4,"t":2.4,"y":3.95},{"c":4,"t":2.5,"y":4.0},{"c":4,"t":2.6,"y":3.94},{"c":4,"t":2.7,"y":3.99},{"c":4,"t":2.8,"y":3.96},{"c":4,"t":2.9,"y":3.98},{"c":4,"t":3,"y":3.97},
{"c":3,"t":0,"y":3.02},{"c":3,"t":0.1,"y":2.98},{"c":3,"t":0.2,"y":3.04},{"c":3,"t":0.3,"y":2.96},{"c":3,"t":0.4,"y":3.03},{"c":3,"t":0.5,"y":2.97},{"c":3,"t":0.6,"y":3.02},{"c":3,"t":0.7,"y":2.98},{"c":3,"t":0.8,"y":3.04},{"c":3,"t":0.9,"y":2.97},{"c":3,"t":1,"y":3.03},{"c":3,"t":1.1,"y":2.98},{"c":3,"t":1.2,"y":3.05},{"c":3,"t":1.3,"y":2.97},{"c":3,"t":1.4,"y":3.02},{"c":3,"t":1.5,"y":2.96},{"c":3,"t":1.6,"y":3.03},{"c":3,"t":1.7,"y":2.98},{"c":3,"t":1.8,"y":2.93},{"c":3,"t":1.9,"y":3.03},{"c":3,"t":2,"y":2.97},{"c":3,"t":2.1,"y":3.02},{"c":3,"t":2.2,"y":2.96},{"c":3,"t":2.3,"y":3.0},{"c":3,"t":2.4,"y":2.97},{"c":3,"t":2.5,"y":3.03},{"c":3,"t":2.6,"y":2.98},{"c":3,"t":2.7,"y":3.02},{"c":3,"t":2.8,"y":3.0},{"c":3,"t":2.9,"y":3.06},{"c":3,"t":3,"y":3.02},
{"c":2,"t":0,"y":2.05},{"c":2,"t":0.05,"y":1.92},{"c":2,"t":0.1,"y":2.1},{"c":2,"t":0.15,"y":1.95},{"c":2,"t":0.2,"y":2.08},{"c":2,"t":0.25,"y":1.97},{"c":2,"t":0.3,"y":2.15},{"c":2,"t":0.35,"y":1.98},{"c":2,"t":0.4,"y":2.12},{"c":2,"t":0.5,"y":2.0},{"c":2,"t":0.6,"y":2.08},{"c":2,"t":0.7,"y":1.98},{"c":2,"t":0.8,"y":2.05},{"c":2,"t":0.9,"y":1.97},{"c":2,"t":1,"y":2.08},{"c":2,"t":1.1,"y":2.1},{"c":2,"t":1.15,"y":1.92},{"c":2,"t":1.2,"y":2.2},{"c":2,"t":1.25,"y":1.88},{"c":2,"t":1.3,"y":2.18},{"c":2,"t":1.35,"y":1.85},{"c":2,"t":1.4,"y":2.2},{"c":2,"t":1.45,"y":1.9},{"c":2,"t":1.5,"y":2.15},{"c":2,"t":1.55,"y":1.92},{"c":2,"t":1.6,"y":2.08},{"c":2,"t":1.65,"y":1.95},{"c":2,"t":1.7,"y":2.05},{"c":2,"t":1.75,"y":1.93},{"c":2,"t":1.8,"y":2.06},{"c":2,"t":1.85,"y":1.95},{"c":2,"t":1.9,"y":2.08},{"c":2,"t":1.95,"y":1.94},{"c":2,"t":2,"y":2.05},{"c":2,"t":2.05,"y":1.96},{"c":2,"t":2.1,"y":2.02},{"c":2,"t":2.2,"y":1.95},{"c":2,"t":2.3,"y":2.06},{"c":2,"t":2.4,"y":1.96},{"c":2,"t":2.5,"y":2.1},{"c":2,"t":2.6,"y":1.97},{"c":2,"t":2.7,"y":2.05},{"c":2,"t":2.8,"y":2.0},{"c":2,"t":2.9,"y":2.04},{"c":2,"t":3,"y":2.02},
{"c":1,"t":0,"y":0.9},{"c":1,"t":0.1,"y":0.87},{"c":1,"t":0.2,"y":0.92},{"c":1,"t":0.3,"y":0.86},{"c":1,"t":0.4,"y":0.9},{"c":1,"t":0.5,"y":0.88},{"c":1,"t":0.6,"y":0.93},{"c":1,"t":0.7,"y":0.87},{"c":1,"t":0.8,"y":0.95},{"c":1,"t":0.9,"y":0.9},{"c":1,"t":1,"y":1.0},{"c":1,"t":1.1,"y":0.96},{"c":1,"t":1.2,"y":0.98},{"c":1,"t":1.3,"y":1.0},{"c":1,"t":1.4,"y":0.95},{"c":1,"t":1.5,"y":1.0},{"c":1,"t":1.6,"y":1.15},{"c":1,"t":1.7,"y":0.95},{"c":1,"t":1.8,"y":0.96},{"c":1,"t":1.9,"y":0.9},{"c":1,"t":2,"y":0.88},{"c":1,"t":2.1,"y":0.92},{"c":1,"t":2.2,"y":0.86},{"c":1,"t":2.3,"y":0.9},{"c":1,"t":2.4,"y":0.85},{"c":1,"t":2.5,"y":0.83},{"c":1,"t":2.6,"y":0.75},{"c":1,"t":2.7,"y":0.9},{"c":1,"t":2.8,"y":0.87},{"c":1,"t":2.9,"y":0.9},{"c":1,"t":3,"y":0.88}
],
"e":[
{"c":10,"t":0,"y":10.02},{"c":10,"t":0.05,"y":10.06},{"c":10,"t":0.1,"y":9.98},{"c":10,"t":0.15,"y":10.05},{"c":10,"t":0.2,"y":9.97},{"c":10,"t":0.25,"y":10.07},{"c":10,"t":0.3,"y":10.0},{"c":10,"t":0.35,"y":10.1},{"c":10,"t":0.4,"y":10.15},{"c":10,"t":0.5,"y":9.98},{"c":10,"t":0.6,"y":10.18},{"c":10,"t":0.7,"y":9.97},{"c":10,"t":0.8,"y":10.04},{"c":10,"t":0.9,"y":10.1},{"c":10,"t":1,"y":9.98},{"c":10,"t":1.1,"y":10.04},{"c":10,"t":1.15,"y":10.0},{"c":10,"t":1.2,"y":10.08},{"c":10,"t":1.25,"y":9.97},{"c":10,"t":1.3,"y":10.06},{"c":10,"t":1.35,"y":10.0},{"c":10,"t":1.4,"y":10.12},{"c":10,"t":1.45,"y":9.98},{"c":10,"t":1.5,"y":10.1},{"c":10,"t":1.55,"y":9.98},{"c":10,"t":1.6,"y":10.15},{"c":10,"t":1.65,"y":10.0},{"c":10,"t":1.7,"y":10.1},{"c":10,"t":1.75,"y":9.96},{"c":10,"t":1.8,"y":10.22},{"c":10,"t":1.85,"y":10.32},{"c":10,"t":1.9,"y":10.05},{"c":10,"t":1.95,"y":10.15},{"c":10,"t":2,"y":9.98},{"c":10,"t":2.05,"y":10.1},{"c":10,"t":2.1,"y":10.0},{"c":10,"t":2.2,"y":10.05},{"c":10,"t":2.3,"y":9.98},{"c":10,"t":2.4,"y":10.02},{"c":10,"t":2.5,"y":9.97},{"c":10,"t":2.6,"y":10.0},{"c":10,"t":2.7,"y":9.96},{"c":10,"t":2.8,"y":9.97},{"c":10,"t":2.9,"y":9.95},{"c":10,"t":3,"y":9.93},
{"c":9,"t":0,"y":9.0},{"c":9,"t":0.1,"y":8.98},{"c":9,"t":0.2,"y":9.02},{"c":9,"t":0.3,"y":8.97},{"c":9,"t":0.4,"y":9.01},{"c":9,"t":0.5,"y":8.98},{"c":9,"t":0.6,"y":9.03},{"c":9,"t":0.7,"y":9.0},{"c":9,"t":0.8,"y":8.98},{"c":9,"t":0.9,"y":9.01},{"c":9,"t":1,"y":8.97},{"c":9,"t":1.1,"y":9.0},{"c":9,"t":1.2,"y":8.98},{"c":9,"t":1.3,"y":9.04},{"c":9,"t":1.4,"y":9.0},{"c":9,"t":1.5,"y":8.98},{"c":9,"t":1.6,"y":9.02},{"c":9,"t":1.7,"y":8.97},{"c":9,"t":1.8,"y":9.01},{"c":9,"t":1.9,"y":8.98},{"c":9,"t":2,"y":9.0},{"c":9,"t":2.1,"y":9.03},{"c":9,"t":2.2,"y":8.99},{"c":9,"t":2.3,"y":9.02},{"c":9,"t":2.4,"y":9.0},{"c":9,"t":2.5,"y":9.04},{"c":9,"t":2.6,"y":9.18},{"c":9,"t":2.7,"y":9.0},{"c":9,"t":2.8,"y":9.03},{"c":9,"t":2.9,"y":9.05},{"c":9,"t":3,"y":9.08},
{"c":8,"t":0,"y":8.12},{"c":8,"t":0.05,"y":7.88},{"c":8,"t":0.1,"y":8.18},{"c":8,"t":0.15,"y":7.9},{"c":8,"t":0.2,"y":8.15},{"c":8,"t":0.25,"y":7.92},{"c":8,"t":0.3,"y":8.1},{"c":8,"t":0.35,"y":7.96},{"c":8,"t":0.4,"y":8.1},{"c":8,"t":0.5,"y":7.95},{"c":8,"t":0.6,"y":8.08},{"c":8,"t":0.7,"y":7.96},{"c":8,"t":0.8,"y":8.06},{"c":8,"t":0.9,"y":7.98},{"c":8,"t":1,"y":8.1},{"c":8,"t":1.1,"y":7.96},{"c":8,"t":1.15,"y":8.12},{"c":8,"t":1.2,"y":7.82},{"c":8,"t":1.25,"y":8.42},{"c":8,"t":1.3,"y":7.62},{"c":8,"t":1.35,"y":8.45},{"c":8,"t":1.4,"y":7.6},{"c":8,"t":1.45,"y":8.3},{"c":8,"t":1.5,"y":7.78},{"c":8,"t":1.55,"y":8.3},{"c":8,"t":1.6,"y":7.75},{"c":8,"t":1.65,"y":8.32},{"c":8,"t":1.7,"y":7.72},{"c":8,"t":1.75,"y":8.28},{"c":8,"t":1.8,"y":7.8},{"c":8,"t":1.85,"y":8.25},{"c":8,"t":1.9,"y":7.82},{"c":8,"t":1.95,"y":8.18},{"c":8,"t":2,"y":7.9},{"c":8,"t":2.05,"y":8.12},{"c":8,"t":2.1,"y":7.98},{"c":8,"t":2.2,"y":8.08},{"c":8,"t":2.3,"y":8.0},{"c":8,"t":2.4,"y":8.1},{"c":8,"t":2.5,"y":8.02},{"c":8,"t":2.6,"y":8.06},{"c":8,"t":2.7,"y":8.04},{"c":8,"t":2.8,"y":8.1},{"c":8,"t":2.9,"y":8.07},{"c":8,"t":3,"y":8.15},
{"c":7,"t":0,"y":6.94},{"c":7,"t":0.05,"y":6.98},{"c":7,"t":0.1,"y":6.92},{"c":7,"t":0.15,"y":6.97},{"c":7,"t":0.2,"y":6.93},{"c":7,"t":0.25,"y":6.96},{"c":7,"t":0.3,"y":6.92},{"c":7,"t":0.35,"y":6.97},{"c":7,"t":0.4,"y":6.95},{"c":7,"t":0.5,"y":6.98},{"c":7,"t":0.6,"y":6.93},{"c":7,"t":0.7,"y":6.97},{"c":7,"t":0.8,"y":6.95},{"c":7,"t":0.9,"y":7.02},{"c":7,"t":1,"y":6.96},{"c":7,"t":1.1,"y":7.02},{"c":7,"t":1.15,"y":6.96},{"c":7,"t":1.2,"y":7.08},{"c":7,"t":1.25,"y":6.92},{"c":7,"t":1.3,"y":7.1},{"c":7,"t":1.35,"y":6.9},{"c":7,"t":1.4,"y":7.12},{"c":7,"t":1.45,"y":6.93},{"c":7,"t":1.5,"y":7.06},{"c":7,"t":1.55,"y":6.91},{"c":7,"t":1.6,"y":7.1},{"c":7,"t":1.65,"y":6.93},{"c":7,"t":1.7,"y":7.05},{"c":7,"t":1.75,"y":6.94},{"c":7,"t":1.8,"y":7.02},{"c":7,"t":1.85,"y":6.95},{"c":7,"t":1.9,"y":7.0},{"c":7,"t":1.95,"y":6.94},{"c":7,"t":2,"y":6.99},{"c":7,"t":2.05,"y":6.93},{"c":7,"t":2.1,"y":6.98},{"c":7,"t":2.2,"y":6.95},{"c":7,"t":2.3,"y":6.98},{"c":7,"t":2.4,"y":6.94},{"c":7,"t":2.5,"y":7.16},{"c":7,"t":2.6,"y":6.93},{"c":7,"t":2.7,"y":6.96},{"c":7,"t":2.8,"y":6.94},{"c":7,"t":2.9,"y":6.96},{"c":7,"t":3,"y":6.93},
{"c":6,"t":0,"y":6.02},{"c":6,"t":0.05,"y":5.98},{"c":6,"t":0.1,"y":6.04},{"c":6,"t":0.15,"y":5.97},{"c":6,"t":0.2,"y":6.03},{"c":6,"t":0.25,"y":5.98},{"c":6,"t":0.3,"y":6.02},{"c":6,"t":0.35,"y":5.97},{"c":6,"t":0.4,"y":6.05},{"c":6,"t":0.5,"y":5.96},{"c":6,"t":0.6,"y":6.06},{"c":6,"t":0.7,"y":5.97},{"c":6,"t":0.8,"y":6.08},{"c":6,"t":0.9,"y":5.97},{"c":6,"t":1,"y":6.1},{"c":6,"t":1.1,"y":5.96},{"c":6,"t":1.15,"y":6.12},{"c":6,"t":1.2,"y":5.95},{"c":6,"t":1.25,"y":6.15},{"c":6,"t":1.3,"y":5.93},{"c":6,"t":1.35,"y":6.18},{"c":6,"t":1.4,"y":5.95},{"c":6,"t":1.45,"y":6.14},{"c":6,"t":1.5,"y":5.97},{"c":6,"t":1.55,"y":6.2},{"c":6,"t":1.6,"y":5.96},{"c":6,"t":1.65,"y":6.15},{"c":6,"t":1.7,"y":5.98},{"c":6,"t":1.75,"y":6.12},{"c":6,"t":1.8,"y":5.98},{"c":6,"t":1.85,"y":6.08},{"c":6,"t":1.9,"y":5.97},{"c":6,"t":1.95,"y":6.02},{"c":6,"t":2,"y":5.96},{"c":6,"t":2.05,"y":6.0},{"c":6,"t":2.1,"y":5.95},{"c":6,"t":2.2,"y":5.98},{"c":6,"t":2.3,"y":5.95},{"c":6,"t":2.4,"y":5.97},{"c":6,"t":2.5,"y":5.94},{"c":6,"t":2.6,"y":5.98},{"c":6,"t":2.7,"y":5.96},{"c":6,"t":2.8,"y":5.99},{"c":6,"t":2.9,"y":5.97},{"c":6,"t":3,"y":6.0},
{"c":5,"t":0,"y":5.12},{"c":5,"t":0.05,"y":4.95},{"c":5,"t":0.1,"y":5.18},{"c":5,"t":0.15,"y":4.95},{"c":5,"t":0.2,"y":5.12},{"c":5,"t":0.25,"y":4.98},{"c":5,"t":0.3,"y":5.08},{"c":5,"t":0.35,"y":5.0},{"c":5,"t":0.4,"y":5.08},{"c":5,"t":0.5,"y":4.96},{"c":5,"t":0.6,"y":5.1},{"c":5,"t":0.7,"y":4.95},{"c":5,"t":0.8,"y":5.06},{"c":5,"t":0.9,"y":4.97},{"c":5,"t":1,"y":5.1},{"c":5,"t":1.1,"y":4.98},{"c":5,"t":1.15,"y":5.05},{"c":5,"t":1.2,"y":4.9},{"c":5,"t":1.25,"y":5.25},{"c":5,"t":1.3,"y":4.65},{"c":5,"t":1.35,"y":5.42},{"c":5,"t":1.4,"y":4.72},{"c":5,"t":1.45,"y":5.3},{"c":5,"t":1.5,"y":4.88},{"c":5,"t":1.55,"y":5.1},{"c":5,"t":1.6,"y":4.95},{"c":5,"t":1.65,"y":5.25},{"c":5,"t":1.7,"y":4.8},{"c":5,"t":1.75,"y":5.35},{"c":5,"t":1.8,"y":4.75},{"c":5,"t":1.85,"y":5.3},{"c":5,"t":1.9,"y":4.65},{"c":5,"t":1.95,"y":5.3},{"c":5,"t":2,"y":4.85},{"c":5,"t":2.05,"y":5.15},{"c":5,"t":2.1,"y":4.98},{"c":5,"t":2.2,"y":5.06},{"c":5,"t":2.3,"y":4.98},{"c":5,"t":2.4,"y":5.05},{"c":5,"t":2.5,"y":4.99},{"c":5,"t":2.6,"y":5.04},{"c":5,"t":2.7,"y":5.0},{"c":5,"t":2.8,"y":5.06},{"c":5,"t":2.9,"y":5.02},{"c":5,"t":3,"y":5.04},
{"c":4,"t":0,"y":4.02},{"c":4,"t":0.05,"y":4.15},{"c":4,"t":0.1,"y":3.9},{"c":4,"t":0.15,"y":4.12},{"c":4,"t":0.2,"y":3.92},{"c":4,"t":0.25,"y":4.1},{"c":4,"t":0.3,"y":3.95},{"c":4,"t":0.35,"y":4.05},{"c":4,"t":0.4,"y":3.98},{"c":4,"t":0.5,"y":4.05},{"c":4,"t":0.6,"y":3.97},{"c":4,"t":0.7,"y":4.04},{"c":4,"t":0.8,"y":3.98},{"c":4,"t":0.9,"y":4.06},{"c":4,"t":1,"y":4.0},{"c":4,"t":1.1,"y":4.1},{"c":4,"t":1.15,"y":3.85},{"c":4,"t":1.2,"y":4.25},{"c":4,"t":1.25,"y":3.8},{"c":4,"t":1.3,"y":4.35},{"c":4,"t":1.35,"y":3.75},{"c":4,"t":1.4,"y":4.32},{"c":4,"t":1.45,"y":3.82},{"c":4,"t":1.5,"y":4.25},{"c":4,"t":1.55,"y":3.85},{"c":4,"t":1.6,"y":4.2},{"c":4,"t":1.65,"y":3.88},{"c":4,"t":1.7,"y":4.15},{"c":4,"t":1.75,"y":3.9},{"c":4,"t":1.8,"y":4.12},{"c":4,"t":1.85,"y":3.88},{"c":4,"t":1.9,"y":4.1},{"c":4,"t":1.95,"y":3.92},{"c":4,"t":2,"y":4.06},{"c":4,"t":2.05,"y":3.95},{"c":4,"t":2.1,"y":4.02},{"c":4,"t":2.2,"y":3.96},{"c":4,"t":2.3,"y":4.02},{"c":4,"t":2.4,"y":3.95},{"c":4,"t":2.5,"y":4.0},{"c":4,"t":2.6,"y":3.94},{"c":4,"t":2.7,"y":3.99},{"c":4,"t":2.8,"y":3.96},{"c":4,"t":2.9,"y":3.98},{"c":4,"t":3,"y":3.97},
{"c":3,"t":0,"y":2.92},{"c":3,"t":0.1,"y":2.85},{"c":3,"t":0.2,"y":2.78},{"c":3,"t":0.3,"y":2.84},{"c":3,"t":0.4,"y":2.8},{"c":3,"t":0.5,"y":2.88},{"c":3,"t":0.6,"y":2.9},{"c":3,"t":0.7,"y":3.1},{"c":3,"t":0.8,"y":3.12},{"c":3,"t":0.9,"y":3.08},{"c":3,"t":1,"y":3.13},{"c":3,"t":1.1,"y":3.1},{"c":3,"t":1.2,"y":3.14},{"c":3,"t":1.3,"y":3.07},{"c":3,"t":1.4,"y":3.12},{"c":3,"t":1.5,"y":3.06},{"c":3,"t":1.6,"y":3.1},{"c":3,"t":1.7,"y":3.05},{"c":3,"t":1.8,"y":3.12},{"c":3,"t":1.9,"y":3.07},{"c":3,"t":2,"y":3.13},{"c":3,"t":2.1,"y":3.06},{"c":3,"t":2.2,"y":3.1},{"c":3,"t":2.3,"y":3.05},{"c":3,"t":2.4,"y":3.09},{"c":3,"t":2.5,"y":3.06},{"c":3,"t":2.6,"y":3.1},{"c":3,"t":2.7,"y":3.08},{"c":3,"t":2.8,"y":3.12},{"c":3,"t":2.9,"y":3.2},{"c":3,"t":3,"y":3.12}
]
},
"concat":[
{"title":"Pre-Source EEG/EOG","width":194,"height":227,"data":{"name":"a"},"mark":"line",
"encoding":{"x":{"field":"t","type":"quantitative","scale":{"domain":[0,3],"nice":false},"axis":{"title":["Time(sec)","(a)"]}},
"y":{"field":"y","type":"quantitative","scale":{"domain":[-0.07,11.67],"nice":false,"zero":false},"axis":{"values":[1,2,3,4,5,6,7,8,9,10],"labelExpr":"['','Veog','Heog','F4','P3','Fz','P4','P8','P7','Fc6','Af3'][datum.value]"}},
"detail":{"field":"c","type":"nominal"}}},
{"title":"EEG/EOG Sources","width":194,"height":227,"data":{"name":"b"},"mark":"line",
"encoding":{"x":{"field":"t","type":"quantitative","scale":{"domain":[0,3],"nice":false},"axis":{"title":["Time(sec)","(b)"]}},
"y":{"field":"y","type":"quantitative","scale":{"domain":[-0.07,11.67],"nice":false,"zero":false},"axis":{"values":[1,2,3,4,5,6,7,8,9,10],"labelExpr":"['','Veog','Heog','F4','P3','Fz','P4','P8','P7','Fc6','Af3'][datum.value]"}},
"detail":{"field":"c","type":"nominal"}}},
{"title":"Simulated EEG/EOG","width":194,"height":227,"data":{"name":"c"},"mark":"line",
"encoding":{"x":{"field":"t","type":"quantitative","scale":{"domain":[0,3],"nice":false},"axis":{"title":["Time(sec)","(c)"]}},
"y":{"field":"y","type":"quantitative","scale":{"domain":[0.36,10.68],"nice":false,"zero":false},"axis":{"values":[1,2,3,4,5,6,7,8,9,10],"labelExpr":"['','Veog','Heog','Ch8','Ch7','Ch6','Ch5','Ch4','Ch3','Ch2','Ch1'][datum.value]"}},
"detail":{"field":"c","type":"nominal"}}},
{"width":194,"height":227,"data":{"values":[]},"mark":"point","view":{"stroke":null}},
{"title":{"text":["Simulated EEG/EOG","Without Artifacts"],"lineHeight":18,"offset":3},"width":194,"height":227,"data":{"name":"d"},"mark":"line",
"encoding":{"x":{"field":"t","type":"quantitative","scale":{"domain":[0,3],"nice":false},"axis":{"title":["Time(sec)","(d)"]}},
"y":{"field":"y","type":"quantitative","scale":{"domain":[0.26,10.72],"nice":false,"zero":false},"axis":{"values":[1,2,3,4,5,6,7,8,9,10],"labelExpr":"['','Veog','Heog','Ch8','Ch7','Ch6','Ch5','Ch4','Ch3','Ch2','Ch1'][datum.value]"}},
"detail":{"field":"c","type":"nominal"}}},
{"title":"Corrected EEG","width":194,"height":227,"data":{"name":"e"},"mark":"line",
"encoding":{"x":{"field":"t","type":"quantitative","scale":{"domain":[0,3],"nice":false},"axis":{"title":["Time(sec)","(e)"]}},
"y":{"field":"y","type":"quantitative","scale":{"domain":[0.26,10.72],"nice":false,"zero":false},"axis":{"values":[3,4,5,6,7,8,9,10],"labelExpr":"['','Veog','Heog','Ch8','Ch7','Ch6','Ch5','Ch4','Ch3','Ch2','Ch1'][datum.value]"}},
"detail":{"field":"c","type":"nominal"}}}
]
}
